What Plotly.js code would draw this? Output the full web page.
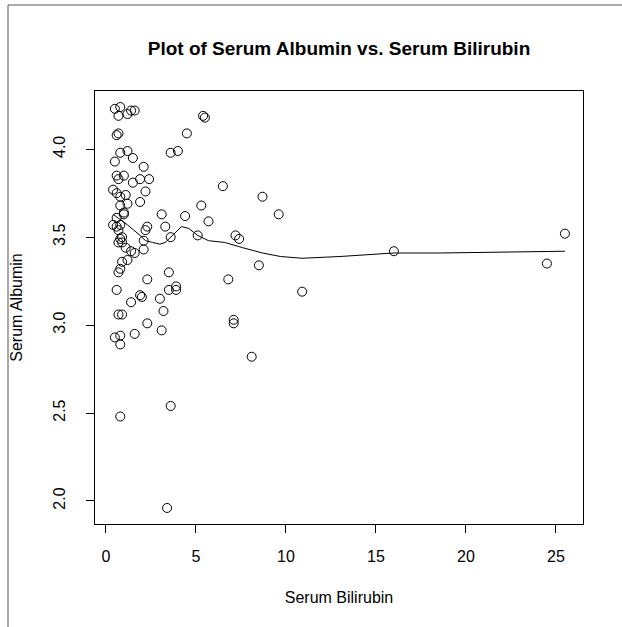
<!DOCTYPE html>
<html>
<head>
<meta charset="utf-8">
<script src="https://cdn.plot.ly/plotly-3.0.1.min.js"></script>
<style>
  html, body { margin: 0; padding: 0; background: #fff; }
  #chart { width: 622px; height: 627px; }
</style>
</head>
<body>
<div id="chart"></div>
<script>
// Serum bilirubin (mg/dl) and serum albumin (g/dl) for each patient
const bilirubin = [
  0.5, 0.8, 0.7, 1.2, 1.4, 1.6, 5.4, 5.5, 0.6, 0.7,
  4.5, 0.8, 1.2, 1.5, 0.5, 2.1, 3.6, 4.0, 0.6, 0.7,
  1.0, 1.5, 1.9, 2.4, 2.2, 6.5, 0.4, 0.6, 0.8, 1.1,
  0.8, 1.2, 1.9, 1.0, 8.7, 0.6, 1.0, 3.1, 4.4, 5.3,
  9.6, 0.4, 0.6, 0.8, 0.7, 2.3, 3.3, 2.2, 5.7, 0.9,
  0.8, 0.7, 0.9, 2.1, 3.6, 5.1, 7.2, 7.4, 1.1, 1.4,
  1.6, 2.1, 0.9, 1.2, 8.5, 0.8, 0.7, 3.5, 2.3, 6.8,
  16.0, 25.5, 24.5, 0.6, 3.5, 3.9, 3.9, 1.9, 2.0, 1.4,
  3.0, 10.9, 3.2, 0.7, 0.9, 7.1, 7.1, 2.3, 3.1, 1.6,
  0.5, 0.8, 0.8, 8.1, 0.8, 3.6, 3.4
];
const albumin = [
  4.23, 4.24, 4.19, 4.20, 4.22, 4.22, 4.19, 4.18, 4.08, 4.09,
  4.09, 3.98, 3.99, 3.95, 3.93, 3.90, 3.98, 3.99, 3.85, 3.83,
  3.85, 3.81, 3.83, 3.83, 3.76, 3.79, 3.77, 3.75, 3.73, 3.74,
  3.68, 3.69, 3.70, 3.64, 3.73, 3.61, 3.63, 3.63, 3.62, 3.68,
  3.63, 3.57, 3.56, 3.57, 3.54, 3.56, 3.56, 3.54, 3.59, 3.50,
  3.49, 3.47, 3.47, 3.48, 3.50, 3.51, 3.51, 3.49, 3.44, 3.42,
  3.41, 3.43, 3.36, 3.37, 3.34, 3.32, 3.30, 3.30, 3.26, 3.26,
  3.42, 3.52, 3.35, 3.20, 3.20, 3.22, 3.20, 3.17, 3.16, 3.13,
  3.15, 3.19, 3.08, 3.06, 3.06, 3.03, 3.01, 3.01, 2.97, 2.95,
  2.93, 2.94, 2.89, 2.82, 2.48, 2.54, 1.96
];

// Smoothed (lowess) trend of albumin against bilirubin
const smoothX = [0.4, 1.2, 1.9, 2.2, 2.6, 3.0, 3.3, 3.7, 4.0, 4.2, 4.6,
                 5.1, 5.7, 6.6, 7.6, 8.7, 9.7, 10.9, 13.0, 16.0, 18.6, 25.5];
const smoothY = [3.63, 3.57, 3.51, 3.48, 3.47, 3.46, 3.47, 3.51, 3.54, 3.56, 3.55,
                 3.51, 3.48, 3.47, 3.44, 3.41, 3.39, 3.38, 3.39, 3.41, 3.41, 3.42];

// Axis ticks
const xTicks = [0, 5, 10, 15, 20, 25];
const yTicks = [2.0, 2.5, 3.0, 3.5, 4.0];
const yTickText = ["2.0", "2.5", "3.0", "3.5", "4.0"];

// Axis limits padded 4% beyond the data, as base R graphics do
function padded(values) {
  const lo = Math.min(...values), hi = Math.max(...values);
  const d = (hi - lo) * 0.04;
  return [lo - d, hi + d];
}

const font = "Liberation Sans, Arial, Helvetica, sans-serif";

const traces = [
  {
    type: "scatter", mode: "markers",
    x: bilirubin, y: albumin,
    marker: { symbol: "circle-open", size: 9, color: "#000", line: { width: 1, color: "#000" } },
    hoverinfo: "x+y"
  },
  {
    type: "scatter", mode: "lines",
    x: smoothX, y: smoothY,
    line: { color: "#000", width: 1 },
    hoverinfo: "skip"
  }
];

const layout = {
  width: 622, height: 627,
  margin: { l: 95, r: 39, t: 91, b: 103, pad: 0 },
  paper_bgcolor: "#fff", plot_bgcolor: "#fff",
  showlegend: false,
  font: { family: font, size: 16, color: "#000" },
  title: {
    text: "<b>Plot of Serum Albumin vs. Serum Bilirubin</b>",
    font: { family: font, size: 19, color: "#000" },
    xref: "paper", x: 0.5, xanchor: "center",
    yref: "container", y: 1 - 48 / 627, yanchor: "middle"
  },
  xaxis: {
    range: padded(bilirubin),
    tickmode: "array", tickvals: xTicks, ticktext: xTicks.map(String),
    ticks: "outside", ticklen: 8, tickwidth: 1, tickcolor: "#000",
    ticklabelstandoff: 10,
    showline: true, mirror: true, linecolor: "#000", linewidth: 1,
    showgrid: false, zeroline: false,
    tickfont: { family: font, size: 16, color: "#000" },
    title: { text: "Serum Bilirubin", font: { family: font, size: 16, color: "#000" }, standoff: 27 }
  },
  yaxis: {
    range: padded(albumin),
    tickmode: "array", tickvals: yTicks, ticktext: yTickText,
    tickangle: -90,
    ticks: "outside", ticklen: 8, tickwidth: 1, tickcolor: "#000",
    ticklabelstandoff: 15,
    showline: true, mirror: true, linecolor: "#000", linewidth: 1,
    showgrid: false, zeroline: false,
    tickfont: { family: font, size: 16, color: "#000" },
    title: { text: "Serum Albumin", font: { family: font, size: 16, color: "#000" }, standoff: 23 }
  },
  // Outer frame lines along the top and left edges of the figure
  shapes: [
    { type: "line", xref: "paper", yref: "paper",
      x0: -87 / 488, x1: 527 / 488, y0: 519 / 433, y1: 519 / 433,
      line: { color: "#555", width: 1 } },
    { type: "line", xref: "paper", yref: "paper",
      x0: -87 / 488, x1: -87 / 488, y0: 519 / 433, y1: -103 / 433,
      line: { color: "#555", width: 1 } }
  ]
};

Plotly.newPlot("chart", traces, layout, { staticPlot: true, displayModeBar: false });
</script>
</body>
</html>
